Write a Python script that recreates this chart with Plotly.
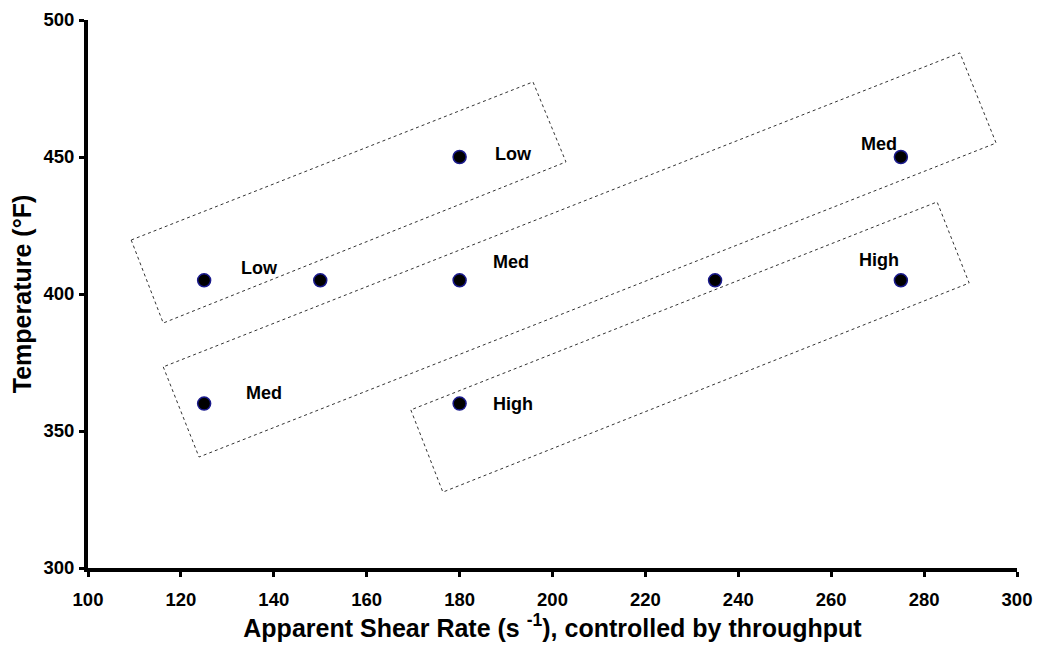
import plotly.graph_objects as go

# Trial conditions: apparent shear rate (1/s) vs barrel temperature (F)
shear_rate = [125, 150, 180, 180, 125, 180, 235, 275, 275]
temperature = [405, 405, 405, 450, 360, 360, 405, 450, 405]

# Axis ticks
x_ticks = list(range(100, 301, 20))
y_ticks = list(range(300, 501, 50))

# Group labels (text, x, y in data units)
label_text = ["Low", "Low", "Med", "Med", "High", "Med", "High"]
label_x = [137.0, 191.5, 191.1, 137.9, 191.5, 270.3, 270.3]
label_y = [409.5, 451.1, 411.7, 363.9, 359.9, 454.7, 412.4]

# Group outlines: corner lists (x, y) in data units
groups = {
    "Low": ([109.3, 116.2, 202.9, 195.8], [419.7, 389.4, 448.2, 477.4]),
    "Med": ([116.2, 123.9, 295.5, 287.7], [373.4, 340.5, 455.1, 488.0]),
    "High": ([169.5, 176.4, 289.7, 282.8], [357.7, 327.7, 404.0, 433.6]),
}

FONT = "Liberation Sans, Arial, sans-serif"

fig = go.Figure()

for name, (gx, gy) in groups.items():
    fig.add_trace(go.Scatter(
        x=gx + [gx[0]], y=gy + [gy[0]], mode="lines",
        line=dict(color="#333333", width=1, dash="dot"),
        hoverinfo="skip", showlegend=False, name=name,
    ))

fig.add_trace(go.Scatter(
    x=shear_rate, y=temperature, mode="markers",
    marker=dict(size=13, color="black", line=dict(color="#1a1a8c", width=1.5)),
    showlegend=False,
))

for t, lx, ly in zip(label_text, label_x, label_y):
    fig.add_annotation(x=lx, y=ly, text=f"<b>{t}</b>", showarrow=False,
                       font=dict(family=FONT, size=18, color="black"))

fig.update_layout(
    width=1038, height=654,
    margin=dict(l=88, r=21, t=20, b=86, autoexpand=False),
    plot_bgcolor="white", paper_bgcolor="white",
    font=dict(family=FONT, color="black"),
)
fig.update_xaxes(
    range=[100, 300], tickmode="array", tickvals=x_ticks,
    showgrid=False, zeroline=False,
    showline=True, linecolor="black", linewidth=4,
    ticks="outside", ticklen=5, tickwidth=3, tickcolor="black",
    tickfont_family=FONT, tickfont_size=18.5, tickfont_color="black", tickfont_weight="bold",
    ticklabelstandoff=7, ticklabeloverflow="allow",
    title_text="<b>Apparent Shear Rate (s <sup>-1</sup>), controlled by throughput</b>",
    title_font=dict(family=FONT, size=25, color="black"), title_standoff=9,
)
fig.update_yaxes(
    range=[300, 500], tickmode="array", tickvals=y_ticks,
    showgrid=False, zeroline=False,
    showline=True, linecolor="black", linewidth=4,
    ticks="outside", ticklen=5, tickwidth=3, tickcolor="black",
    tickfont_family=FONT, tickfont_size=18.5, tickfont_color="black", tickfont_weight="bold",
    ticklabelstandoff=1, ticklabeloverflow="allow",
    title_text="<b>Temperature (°F)</b>",
    title_font=dict(family=FONT, size=25, color="black"), title_standoff=6,
)

fig.write_html("out.html")
